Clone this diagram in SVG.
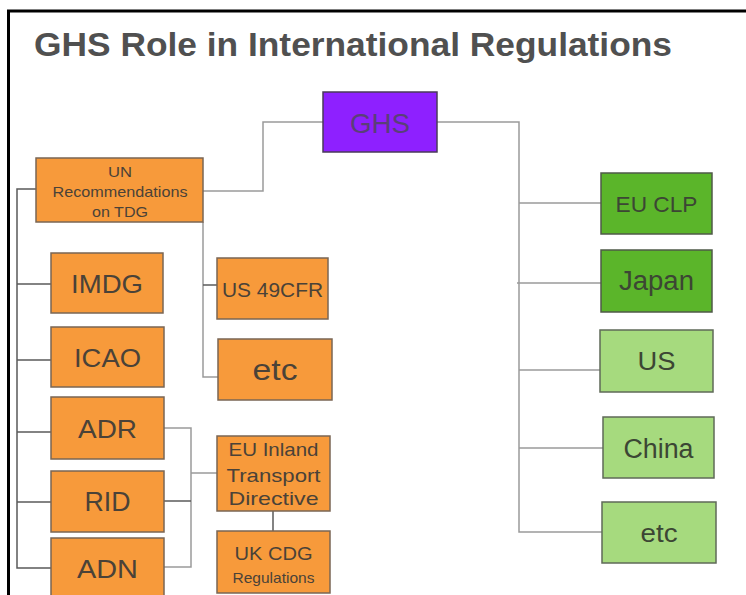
<svg xmlns="http://www.w3.org/2000/svg" width="746" height="595" viewBox="0 0 746 595">
<style>
  text { font-family: "Liberation Sans", Arial, sans-serif; text-anchor: middle; }
  .org rect { fill: #f79a3b; stroke: #7a6654; stroke-width: 1.5; }
  .org text { fill: #4a4238; }
  .dg rect { fill: #5bb52a; stroke: #4f5a48; stroke-width: 1.5; }
  .lg rect { fill: #a6da7e; stroke: #5f6a58; stroke-width: 1.5; }
  .dg text, .lg text { fill: #3c4634; }
  .c1 { stroke: #5a5a5a; stroke-width: 1.5; fill: none; }
  .c2 { stroke: #9a9a9a; stroke-width: 1.5; fill: none; }
</style>
<rect width="746" height="595" fill="#ffffff"/>
<path d="M8.5,595 V11 H746" fill="none" stroke="#000" stroke-width="3"/>
<text x="34" y="56" style="text-anchor:start" font-size="34" font-weight="bold" fill="#505050" textLength="638" lengthAdjust="spacingAndGlyphs">GHS Role in International Regulations</text>

<g id="connectors">
  <path class="c2" d="M323,122 H263 V191 H203"/>
  <path class="c2" d="M437,122 H519 V532 H602"/>
  <path class="c2" d="M519,203 H601"/>
  <path class="c2" d="M517,283 H601"/>
  <path class="c2" d="M519,370 H600"/>
  <path class="c2" d="M519,448 H603"/>
  <path class="c1" d="M36,189 H17 V568 H51"/>
  <path class="c1" d="M17,284 H51"/>
  <path class="c1" d="M17,360 H51"/>
  <path class="c1" d="M17,432 H51"/>
  <path class="c1" d="M17,502 H51"/>
  <path class="c2" d="M203,222 V377 H218"/>
  <path class="c1" d="M203,285 H217"/>
  <path class="c2" d="M164,428 H191 V567 H164"/>
  <path class="c1" d="M164,501 H191"/>
  <path class="c2" d="M191,473 H217"/>
  <path class="c1" d="M273,511 V531"/>
</g>

<g id="ghs">
  <rect x="323" y="92" width="114" height="60" fill="#8e20ff" stroke="#4a3a5a" stroke-width="1.5"/>
  <text x="380" y="133" font-size="28" fill="#5a3f78" textLength="60" lengthAdjust="spacingAndGlyphs">GHS</text>
</g>

<g id="un" class="org">
  <rect x="36" y="158" width="167" height="64"/>
  <text x="120" y="177" font-size="15" textLength="24" lengthAdjust="spacingAndGlyphs">UN</text>
  <text x="120" y="197" font-size="15" textLength="135" lengthAdjust="spacingAndGlyphs">Recommendations</text>
  <text x="120" y="217" font-size="15" textLength="56" lengthAdjust="spacingAndGlyphs">on TDG</text>
</g>

<g id="imdg" class="org">
  <rect x="51" y="253" width="112" height="60"/>
  <text x="107" y="293" font-size="25" textLength="72" lengthAdjust="spacingAndGlyphs">IMDG</text>
</g>
<g id="icao" class="org">
  <rect x="51" y="327" width="113" height="60"/>
  <text x="107.5" y="367" font-size="25" textLength="67" lengthAdjust="spacingAndGlyphs">ICAO</text>
</g>
<g id="adr" class="org">
  <rect x="51" y="397" width="113" height="62"/>
  <text x="107.5" y="438" font-size="25" textLength="59" lengthAdjust="spacingAndGlyphs">ADR</text>
</g>
<g id="rid" class="org">
  <rect x="51" y="471" width="113" height="61"/>
  <text x="107.5" y="511" font-size="27" textLength="46" lengthAdjust="spacingAndGlyphs">RID</text>
</g>
<g id="adn" class="org">
  <rect x="51" y="538" width="113" height="62"/>
  <text x="107.5" y="578" font-size="25" textLength="61" lengthAdjust="spacingAndGlyphs">ADN</text>
</g>

<g id="us49cfr" class="org">
  <rect x="217" y="258" width="111" height="61"/>
  <text x="272.5" y="297" font-size="21" textLength="101" lengthAdjust="spacingAndGlyphs">US 49CFR</text>
</g>
<g id="etc-left" class="org">
  <rect x="218" y="339" width="114" height="61"/>
  <text x="275" y="380" font-size="30" textLength="45" lengthAdjust="spacingAndGlyphs">etc</text>
</g>
<g id="eu-inland" class="org">
  <rect x="217" y="436" width="113" height="75"/>
  <text x="273.5" y="456" font-size="19" textLength="90" lengthAdjust="spacingAndGlyphs">EU Inland</text>
  <text x="273.5" y="482" font-size="19" textLength="94" lengthAdjust="spacingAndGlyphs">Transport</text>
  <text x="273.5" y="505" font-size="19" textLength="90" lengthAdjust="spacingAndGlyphs">Directive</text>
</g>
<g id="uk-cdg" class="org">
  <rect x="217" y="531" width="113" height="62"/>
  <text x="273.5" y="560" font-size="18" textLength="78" lengthAdjust="spacingAndGlyphs">UK CDG</text>
  <text x="273.5" y="583" font-size="15" textLength="82" lengthAdjust="spacingAndGlyphs">Regulations</text>
</g>

<g id="eu-clp" class="dg">
  <rect x="601" y="173" width="111" height="61"/>
  <text x="656.5" y="212" font-size="22" textLength="82" lengthAdjust="spacingAndGlyphs">EU CLP</text>
</g>
<g id="japan" class="dg">
  <rect x="601" y="250" width="111" height="62"/>
  <text x="656.5" y="290" font-size="27" textLength="75" lengthAdjust="spacingAndGlyphs">Japan</text>
</g>
<g id="us" class="lg">
  <rect x="600" y="330" width="113" height="62"/>
  <text x="656.5" y="370" font-size="26" textLength="38" lengthAdjust="spacingAndGlyphs">US</text>
</g>
<g id="china" class="lg">
  <rect x="603" y="417" width="111" height="61"/>
  <text x="658.5" y="458" font-size="27" textLength="70" lengthAdjust="spacingAndGlyphs">China</text>
</g>
<g id="etc-right" class="lg">
  <rect x="602" y="502" width="114" height="61"/>
  <text x="659" y="542" font-size="26" textLength="37" lengthAdjust="spacingAndGlyphs">etc</text>
</g>
</svg>
